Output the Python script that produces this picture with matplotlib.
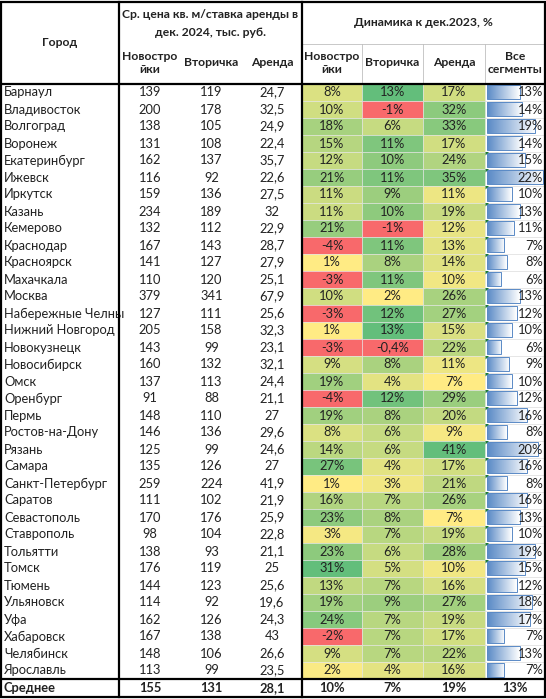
import numpy as np
import matplotlib.pyplot as plt
from matplotlib.patches import Rectangle, Polygon
from matplotlib.colors import LinearSegmentedColormap, to_rgb

plt.rcParams['font.family'] = ['Lato', 'DejaVu Sans']

cities = ["Барнаул", "Владивосток", "Волгоград", "Воронеж", "Екатеринбург", "Ижевск",
          "Иркутск", "Казань", "Кемерово", "Краснодар", "Красноярск", "Махачкала",
          "Москва", "Набережные Челны", "Нижний Новгород", "Новокузнецк", "Новосибирск",
          "Омск", "Оренбург", "Пермь", "Ростов-на-Дону", "Рязань", "Самара",
          "Санкт-Петербург", "Саратов", "Севастополь", "Ставрополь", "Тольятти", "Томск",
          "Тюмень", "Ульяновск", "Уфа", "Хабаровск", "Челябинск", "Ярославль"]
price_new = [139, 200, 138, 131, 162, 116, 159, 234, 132, 167, 141, 110, 379, 127, 205, 143, 160,
             137, 91, 148, 146, 125, 135, 259, 111, 170, 98, 138, 176, 144, 114, 162, 167, 148, 113]
price_sec = [119, 178, 105, 108, 137, 92, 136, 189, 112, 143, 127, 120, 341, 111, 158, 99, 132,
             113, 88, 110, 136, 99, 126, 224, 102, 176, 104, 93, 119, 123, 92, 126, 138, 106, 99]
rent = [24.7, 32.5, 24.9, 22.4, 35.7, 22.6, 27.5, 32, 22.9, 28.7, 27.9, 25.1, 67.9, 25.6, 32.3,
        23.1, 32.1, 24.4, 21.1, 27, 29.6, 24.6, 27, 41.9, 21.9, 25.9, 22.8, 21.1, 25, 25.6,
        19.6, 24.3, 43, 26.6, 23.5]
dyn_new = [8, 10, 18, 15, 12, 21, 11, 11, 21, -4, 1, -3, 10, -3, 1, -3, 9, 19, -4, 19, 8, 14,
           27, 1, 16, 23, 3, 23, 31, 13, 19, 24, -2, 9, 2]
dyn_sec = [13, -1, 6, 11, 10, 11, 9, 10, -1, 11, 8, 11, 2, 12, 13, -0.4, 8, 4, 12, 8, 6, 6, 4,
           3, 7, 8, 7, 6, 5, 7, 9, 7, 7, 7, 4]
dyn_rent = [17, 32, 33, 17, 24, 35, 11, 19, 12, 13, 14, 10, 26, 27, 15, 22, 11, 7, 29, 20, 9,
            41, 17, 21, 26, 7, 19, 28, 10, 16, 27, 19, 17, 22, 16]
dyn_all = [13, 14, 19, 14, 15, 22, 10, 13, 11, 7, 8, 6, 13, 12, 10, 6, 9, 10, 12, 16, 8, 20,
           16, 8, 16, 13, 10, 19, 15, 12, 18, 17, 7, 13, 7]
avg_label = "Среднее"
avg_prices = [155, 131, 28.1]
avg_dyn = [10, 7, 19, 13]
# rows whose "all segments" cell shows the excel green corner
flag_rows = list(range(4, 29))

RED = to_rgb('#F8696B')
YEL = to_rgb('#FFEB84')
GRN = to_rgb('#63BE7B')


def num(v):
    return f"{v:g}".replace('.', ',')


def heat(v, col):
    # negatives red, the rest yellow -> green inside the column
    if v < 0:
        return RED
    pos = [c for c in col if c >= 0]
    t = (v - min(pos)) / (max(pos) - min(pos))
    return tuple(YEL[i] + (GRN[i] - YEL[i]) * t for i in range(3))


fig = plt.figure(figsize=(5.46, 6.99), dpi=100)
ax = fig.add_axes([0, 0, 1, 1])
ax.set_xlim(0, 546)
ax.set_ylim(699, 0)
ax.axis('off')

# column edges (pixels)
xc = [1, 119, 181, 242, 302, 362, 423, 485, 545]
top, hmid, hbot = 2, 43.5, 83.5
rh = 17
n = len(cities)
dbot = hbot + rh * n
bot = 697
fs = 9.3
hfs = 8.7
tc = '#222222'

# header
ax.text((xc[0] + xc[1]) / 2, (top + hbot) / 2, "Город", ha='center', va='center',
        fontsize=hfs, fontweight='bold', color=tc)
ax.text((xc[1] + xc[4]) / 2, 15, "Ср. цена кв. м/ставка аренды в", ha='center', va='center',
        fontsize=hfs, fontweight='bold', color=tc)
ax.text((xc[1] + xc[4]) / 2, 32, "дек. 2024, тыс. руб.", ha='center', va='center',
        fontsize=hfs, fontweight='bold', color=tc)
ax.text((xc[4] + xc[8]) / 2, 22, "Динамика к дек.2023, %", ha='center', va='center',
        fontsize=hfs, fontweight='bold', color=tc)
sub = ["Новостро\nйки", "Вторичка", "Аренда"]
for i, s in enumerate(sub):
    ax.text((xc[1 + i] + xc[2 + i]) / 2, 63, s, ha='center', va='center', fontsize=hfs,
            fontweight='bold', color=tc, linespacing=1.25)
    ax.text((xc[4 + i] + xc[5 + i]) / 2, 63, s, ha='center', va='center', fontsize=hfs,
            fontweight='bold', color=tc, linespacing=1.25)
ax.text((xc[7] + xc[8]) / 2, 63, "Все\nсегменты", ha='center', va='center', fontsize=hfs,
        fontweight='bold', color=tc, linespacing=1.25)
ax.plot([xc[4], xc[8]], [hmid, hmid], color='#bfbfbf', lw=0.6)
for x in xc[5:8]:
    ax.plot([x, x], [hmid, hbot], color='#bfbfbf', lw=0.6)

# heat map cells
dyn_cols = [dyn_new, dyn_sec, dyn_rent]
for j, col in enumerate(dyn_cols):
    for i, v in enumerate(col):
        y0 = hbot + rh * i
        ax.add_patch(Rectangle((xc[4 + j], y0), xc[5 + j] - xc[4 + j], rh,
                               facecolor=heat(v, col), edgecolor='#e6e6e6', lw=0.4))
        ax.text((xc[4 + j] + xc[5 + j]) / 2, y0 + rh / 2 + 0.5, num(v) + "%", ha='center',
                va='center', fontsize=fs, color=tc)

# data bars in the last column
bar_cmap = LinearSegmentedColormap.from_list('bar', ['#5A8AC6', '#FFFFFF'])
grad = np.linspace(0, 1, 64).reshape(1, -1)
px_per_pct = 2.58
bar_x0 = xc[7] + 2
for i, v in enumerate(dyn_all):
    y0 = hbot + rh * i
    w = px_per_pct * v - 1
    ax.imshow(grad, cmap=bar_cmap, extent=[bar_x0, bar_x0 + w, y0 + rh - 1.5, y0 + 1.5],
              aspect='auto', zorder=2, interpolation='bilinear')
    ax.barh(y0 + rh / 2, w, height=rh - 3, left=bar_x0, facecolor='none',
            edgecolor='#5A8AC6', lw=0.7, zorder=3)
    ax.plot([xc[7], xc[8]], [y0 + rh, y0 + rh], color='#dcdcdc', lw=0.5, zorder=1)
    ax.text(xc[8] - 2, y0 + rh / 2 + 0.5, f"{v}%", ha='right', va='center', fontsize=fs,
            color=tc, zorder=4)
    if i in flag_rows:
        ax.add_patch(Polygon([[xc[7] + 0.5, y0 + 0.5], [xc[7] + 4, y0 + 0.5],
                              [xc[7] + 0.5, y0 + 4]], closed=True, facecolor='#1E7B34',
                             edgecolor='none', zorder=5))

# left block values
for i, c in enumerate(cities):
    yc = hbot + rh * i + rh / 2 + 0.5
    ax.text(xc[0] + 3, yc, c, ha='left', va='center', fontsize=fs, color=tc)
    for j, v in enumerate([price_new[i], price_sec[i], rent[i]]):
        ax.text((xc[1 + j] + xc[2 + j]) / 2, yc, num(v), ha='center', va='center',
                fontsize=fs, color=tc)

# average row
ya = (dbot + bot) / 2 + 0.5
ax.text(xc[0] + 3, ya, avg_label, ha='left', va='center', fontsize=fs, fontweight='bold',
        color=tc)
for j, v in enumerate(avg_prices):
    ax.text((xc[1 + j] + xc[2 + j]) / 2, ya, num(v), ha='center', va='center', fontsize=fs,
            fontweight='bold', color=tc)
for j, v in enumerate(avg_dyn):
    ax.text((xc[4 + j] + xc[5 + j]) / 2, ya, f"{v}%", ha='center', va='center', fontsize=fs,
            fontweight='bold', color=tc)

# thick borders
lw = 1.6
ax.add_patch(Rectangle((xc[0], top), xc[8] - xc[0], bot - top, facecolor='none',
                       edgecolor='black', lw=lw, zorder=6))
for x in [xc[1], xc[4]]:
    ax.plot([x, x], [top, bot], color='black', lw=lw, zorder=6)
for y in [hbot, dbot]:
    ax.plot([xc[0], xc[8]], [y, y], color='black', lw=lw, zorder=6)

fig.savefig('out.png', dpi=100)
